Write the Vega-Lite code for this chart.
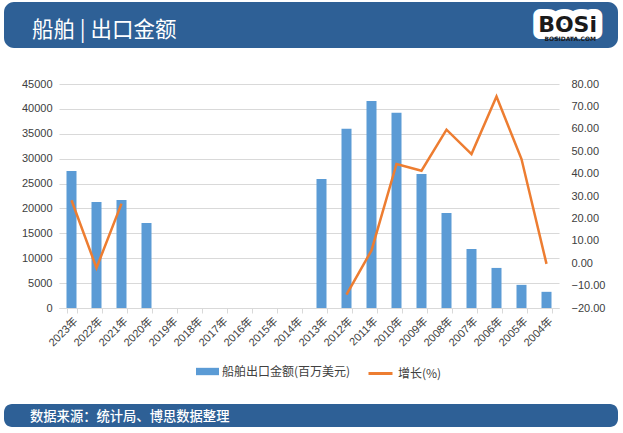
{
  "$schema": "https://vega.github.io/schema/vega-lite/v6.json",
  "background": "white",
  "padding": {"left": 4, "top": 2, "right": 5, "bottom": 3},
  "spacing": 24,
  "resolve": {
    "scale": {"fill": "independent", "stroke": "independent"},
    "legend": {"fill": "independent", "stroke": "independent"}
  },
  "config": {
    "view": {"stroke": null},
    "font": "Liberation Sans, Noto Sans CJK SC, sans-serif"
  },
  "datasets": {
    "main": [
      {"year": "2023年", "value": 27500, "growth": 28.1},
      {"year": "2022年", "value": 21300, "growth": -2.1},
      {"year": "2021年", "value": 21700, "growth": 26.6},
      {"year": "2020年", "value": 17100, "growth": null},
      {"year": "2019年", "value": null, "growth": null},
      {"year": "2018年", "value": null, "growth": null},
      {"year": "2017年", "value": null, "growth": null},
      {"year": "2016年", "value": null, "growth": null},
      {"year": "2015年", "value": null, "growth": null},
      {"year": "2014年", "value": null, "growth": null},
      {"year": "2013年", "value": 25900, "growth": null},
      {"year": "2012年", "value": 36000, "growth": -14.0},
      {"year": "2011年", "value": 41600, "growth": 5.7},
      {"year": "2010年", "value": 39200, "growth": 44.3},
      {"year": "2009年", "value": 26900, "growth": 41.3},
      {"year": "2008年", "value": 19100, "growth": 59.6},
      {"year": "2007年", "value": 11850, "growth": 48.7},
      {"year": "2006年", "value": 8050, "growth": 74.4},
      {"year": "2005年", "value": 4650, "growth": 46.5},
      {"year": "2004年", "value": 3250, "growth": -0.3}
    ]
  },
  "vconcat": [
    {
      "width": 614,
      "height": 46,
      "view": {"fill": "#2E6096", "cornerRadius": 10, "stroke": null},
      "title": {"text": "船舶 | 出口金额", "anchor": "start", "offset": -56, "dx": 28, "color": "white", "fontSize": 21.5, "fontWeight": "normal", "font": "Noto Sans CJK SC", "baseline": "alphabetic"},
      "data": {"values": [{"logo": "BOSi", "site": "BOSIDATA.COM"}]},
      "layer": [
        {
          "mark": {"type": "text", "align": "right", "baseline": "middle", "dx": -21, "dy": 0, "fontSize": 22, "fontWeight": "bold", "font": "DejaVu Sans", "fill": "white", "stroke": "white", "strokeWidth": 14, "strokeJoin": "round"},
          "encoding": {"text": {"field": "logo"}, "x": {"value": "width"}}
        },
        {
          "mark": {"type": "text", "align": "right", "baseline": "middle", "dx": -21, "dy": 0, "fontSize": 22, "fontWeight": "bold", "font": "DejaVu Sans", "fill": "#1a1a1a"},
          "encoding": {"text": {"field": "logo"}, "x": {"value": "width"}}
        },
        {
          "mark": {"type": "text", "align": "right", "baseline": "middle", "dx": -22, "dy": 14, "fontSize": 6, "fontWeight": "bold", "font": "DejaVu Sans", "fill": "#1a1a1a"},
          "encoding": {"text": {"field": "site"}, "x": {"value": "width"}}
        }
      ]
    },
    {
      "width": 555,
      "height": 224,
      "title": {"text": " ", "fontSize": 2, "offset": 3.5},
      "data": {"name": "main"},
      "encoding": {
        "x": {
          "field": "year",
          "type": "nominal",
          "sort": null,
          "scale": {
            "domain": ["2023年", "2022年", "2021年", "2020年", "2019年", "2018年", "2017年", "2016年", "2015年", "2014年", "2013年", "2012年", "2011年", "2010年", "2009年", "2008年", "2007年", "2006年", "2005年", "2004年"],
            "range": [55, 555],
            "paddingInner": 0.6,
            "paddingOuter": 0.3
          },
          "axis": {
            "title": null,
            "labelAngle": -45,
            "labelFontSize": 11,
            "labelColor": "#404040",
            "labelPadding": 2,
            "domainColor": "#D9D9D9",
            "tickColor": "#D9D9D9",
            "tickSize": 5,
            "tickBand": "extent"
          }
        }
      },
      "layer": [
        {
          "mark": {"type": "bar"},
          "encoding": {
            "y": {
              "field": "value",
              "type": "quantitative",
              "scale": {"domain": [0, 45000], "nice": false},
              "axis": {
                "title": null,
                "values": [0, 5000, 10000, 15000, 20000, 25000, 30000, 35000, 40000, 45000],
                "format": "d",
                "grid": true,
                "gridColor": "#D9D9D9",
                "domain": false,
                "ticks": false,
                "offset": -55,
                "labelPadding": 7,
                "labelFontSize": 11,
                "labelColor": "#404040"
              }
            },
            "fill": {
              "datum": "船舶出口金额(百万美元)",
              "scale": {"domain": ["船舶出口金额(百万美元)"], "range": ["#5B9BD5"]},
              "legend": {
                "title": null,
                "orient": "none",
                "legendX": 192,
                "legendY": 276,
                "symbolType": "M-1,-0.32H1V0.32H-1Z",
                "symbolSize": 529,
                "symbolStrokeWidth": 0,
                "labelOffset": 3,
                "labelFontSize": 12,
                "labelColor": "#404040",
                "labelFont": "Noto Sans CJK SC"
              }
            }
          }
        },
        {
          "mark": {"type": "line", "strokeWidth": 2.5, "invalid": "break-paths-filter-domains"},
          "encoding": {
            "y": {
              "field": "growth",
              "type": "quantitative",
              "scale": {"domain": [-20, 80], "nice": false},
              "axis": {
                "title": null,
                "orient": "right",
                "values": [-20, -10, 0, 10, 20, 30, 40, 50, 60, 70, 80],
                "format": ".2f",
                "grid": false,
                "domain": false,
                "ticks": false,
                "labelPadding": 12,
                "labelFontSize": 11,
                "labelColor": "#404040"
              }
            },
            "stroke": {
              "datum": "增长(%)",
              "scale": {"domain": ["增长(%)"], "range": ["#ED7D31"]},
              "legend": {
                "title": null,
                "orient": "none",
                "legendX": 363,
                "legendY": 276,
                "symbolType": "stroke",
                "symbolSize": 576,
                "symbolStrokeWidth": 3,
                "labelOffset": 4,
                "labelFontSize": 12,
                "labelColor": "#404040",
                "labelFont": "Noto Sans CJK SC"
              }
            }
          }
        }
      ],
      "resolve": {"scale": {"y": "independent"}}
    },
    {
      "width": 614,
      "height": 23,
      "view": {"fill": "#2E6096", "cornerRadius": 8, "stroke": null},
      "title": {"text": "数据来源：统计局、博思数据整理", "anchor": "start", "offset": -30.5, "dx": 26, "color": "white", "fontSize": 13.3, "fontWeight": 500, "font": "Noto Sans CJK SC", "baseline": "alphabetic"},
      "data": {"values": [{"t": ""}]},
      "mark": {"type": "text"},
      "encoding": {"text": {"field": "t"}}
    }
  ]
}
